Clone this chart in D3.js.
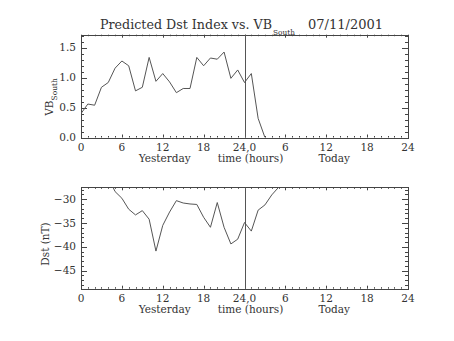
<!DOCTYPE html>
<html><head><meta charset="utf-8">
<script src="https://cdn.jsdelivr.net/npm/d3@7"></script>
<style>
html,body{margin:0;padding:0;background:#fff;}
svg{display:block;}
text{font-family:"DejaVu Serif",serif;fill:#333;}
</style></head>
<body>
<script>
// ---- data ----
const hoursVB = [0,1,2,3,4,5,6,7,8,9,10,11,12,13,14,15,16,17,18,19,20,21,22,23,24,25,26,27];
const vbSouth = [0.40,0.56,0.54,0.84,0.92,1.16,1.28,1.20,0.78,0.84,1.34,0.94,1.07,0.93,0.75,0.82,0.82,1.34,1.20,1.33,1.31,1.43,0.99,1.13,0.92,1.07,0.32,0.00];
const hoursDst = [4,5,6,7,8,9,10,11,12,13,14,15,16,17,18,19,20,21,22,23,24,25,26,27,28,29,30];
const dstValues = [-25.4,-28.4,-29.8,-32.1,-33.3,-32.4,-34.2,-40.9,-35.5,-32.7,-30.3,-30.8,-31.0,-31.1,-33.8,-35.9,-30.7,-35.9,-39.4,-38.4,-34.9,-36.7,-32.3,-31.2,-29.1,-27.5,-26.0];
const xTickValues = [0,6,12,18,24,30,36,42,48];
const xTickLabels = ["0","6","12","18","24,0","6","12","18","24"];
const vbTicks = [0,0.5,1.0,1.5];
const vbTickLabels = ["0.0","0.5","1.0","1.5"];
const dstTicks = [-45,-40,-35,-30];
const dstTickLabels = ["\u221245","\u221240","\u221235","\u221230"];
const dayLabels = [{h:12,t:"Yesterday",dx:2},{h:24,t:"time (hours)",dx:6},{h:36,t:"Today",dx:8}];

const W=454,H=341;
const svg=d3.select("body").append("svg").attr("width",W).attr("height",H);
const ink="#444", lineCol="#555";

const x=d3.scaleLinear().domain([0,48]).range([81,408]);

function panel(top,bottom,domain,majors,majorLabels,minorStep,minorStart,minorEnd,xs,ys,clipId){
  const y=d3.scaleLinear().domain(domain).range([bottom,top]);
  const g=svg.append("g");
  svg.append("clipPath").attr("id",clipId).append("rect")
    .attr("x",x(0)).attr("y",top).attr("width",x(48)-x(0)).attr("height",bottom-top);
  const xMinor=d3.range(0,49,1);
  xMinor.forEach(h=>{
    const major = h%6===0;
    const len = major?3:1.5;
    const px=Math.round(x(h))+0.5;
    g.append("line").attr("x1",px).attr("x2",px).attr("y1",bottom).attr("y2",bottom-len).attr("stroke",ink);
    g.append("line").attr("x1",px).attr("x2",px).attr("y1",top).attr("y2",top+len).attr("stroke",ink);
  });
  const yMinor=d3.range(minorStart,minorEnd+1e-9,minorStep);
  yMinor.forEach(v=>{
    const major = majors.some(m=>Math.abs(m-v)<1e-6);
    const len = major?6:3;
    const py=Math.round(y(v))+0.5;
    g.append("line").attr("x1",x(0)).attr("x2",x(0)+len).attr("y1",py).attr("y2",py).attr("stroke",ink);
    g.append("line").attr("x1",x(48)).attr("x2",x(48)-len).attr("y1",py).attr("y2",py).attr("stroke",ink);
  });
  g.append("rect").attr("x",Math.round(x(0))+0.5).attr("y",Math.round(top)+0.5)
    .attr("width",Math.round(x(48))-Math.round(x(0))).attr("height",Math.round(bottom)-Math.round(top))
    .attr("fill","none").attr("stroke",ink);
  majors.forEach((v,i)=>{
    g.append("text").attr("x",x(0)-5).attr("y",y(v)+3.5).attr("text-anchor","end")
      .attr("font-size",10.5).text(majorLabels[i]);
  });
  xTickValues.forEach((h,i)=>{
    g.append("text").attr("x",x(h)).attr("y",bottom+13.5).attr("text-anchor","middle")
      .attr("font-size",10.5).text(xTickLabels[i]);
  });
  dayLabels.forEach(d=>{
    g.append("text").attr("x",x(d.h)+d.dx).attr("y",bottom+24.5).attr("text-anchor","middle")
      .attr("font-size",10.5).text(d.t);
  });
  g.append("line").attr("x1",Math.round(x(24))+0.5).attr("x2",Math.round(x(24))+0.5)
    .attr("y1",top).attr("y2",bottom).attr("stroke",lineCol);
  const line=d3.line().x((d,i)=>x(xs[i])).y((d,i)=>y(ys[i]));
  g.append("path").datum(ys).attr("d",line).attr("fill","none").attr("stroke",lineCol)
    .attr("stroke-width",1).attr("clip-path",`url(#${clipId})`);
  return y;
}

panel(34.7,137.5,[0,1.72],vbTicks,vbTickLabels,0.1,0,1.7,hoursVB,vbSouth,"c1");
panel(187.3,288.7,[-48.8,-27.5],dstTicks,dstTickLabels,1,-48,-28,hoursDst,dstValues,"c2");

const t1=svg.append("text").attr("transform","translate(53,97) rotate(-90)").attr("text-anchor","middle").attr("font-size",10.5);
t1.append("tspan").text("VB");
t1.append("tspan").attr("font-size",7.5).attr("dy",4).text("South");
svg.append("text").attr("transform","translate(49,244) rotate(-90)").attr("text-anchor","middle").attr("font-size",10.5).text("Dst (nT)");

svg.append("text").attr("x",100).attr("y",29).attr("font-size",13).attr("textLength",172).attr("lengthAdjust","spacingAndGlyphs").text("Predicted Dst Index vs. VB");
svg.append("text").attr("x",273).attr("y",35).attr("font-size",8).attr("textLength",22).attr("lengthAdjust","spacingAndGlyphs").text("South");
svg.append("text").attr("x",308).attr("y",29).attr("font-size",13).attr("textLength",75).attr("lengthAdjust","spacingAndGlyphs").text("07/11/2001");
</script>
</body></html>
